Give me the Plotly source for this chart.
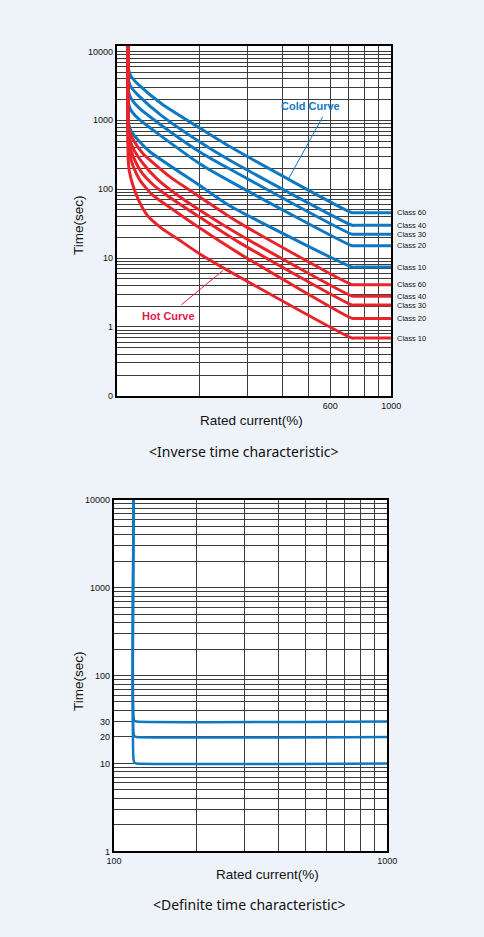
import math
import plotly.graph_objects as go

# ---------------- DATA: inverse time characteristic (top chart) ----------------
class_labels = ["Class 60", "Class 40", "Class 30", "Class 20", "Class 10"]

# cold curves (rated current %, trip time s)
cold60_x = [110, 110, 111, 113, 120, 146, 202, 257, 720, 740, 1000]
cold60_t = [12000, 6000, 5000, 4300, 3300, 1730, 760, 420, 45.5, 45.5, 45.5]
cold40_x = [110, 110, 111, 113, 120, 146, 202, 257, 720, 740, 1000]
cold40_t = [12000, 4200, 3500, 3000, 2290, 1160, 476, 265, 29.9, 29.9, 29.9]
cold30_x = [110, 110, 111, 113, 120, 146, 202, 257, 720, 740, 1000]
cold30_t = [12000, 2900, 2400, 2050, 1540, 836, 342, 198, 22.2, 22.2, 22.2]
cold20_x = [110, 110, 111, 113, 120, 146, 202, 257, 720, 740, 1000]
cold20_t = [12000, 1950, 1600, 1370, 1050, 581, 230, 132, 15.1, 15.1, 15.1]
cold10_x = [110, 110, 111, 113, 120, 132, 202, 257, 720, 740, 1000]
cold10_t = [12000, 1000, 820, 686, 509, 350, 111, 58, 7.4, 7.4, 7.4]

# hot curves
hot60_x = [110, 110, 111.1, 114.7, 124.4, 140.4, 158.5, 186.3, 279, 720, 740, 1000]
hot60_t = [12000, 955, 709, 526, 331, 215, 145, 94.2, 32.7, 4.11, 4.11, 4.11]
hot40_x = [110, 110, 111.1, 114.7, 124.4, 140.4, 162.4, 202, 279, 720, 740, 1000]
hot40_t = [12000, 757, 562, 391, 238, 140, 88, 48.6, 22.0, 2.80, 2.80, 2.80]
hot30_x = [110, 110, 111.1, 114.7, 122.4, 134.8, 149.8, 202, 279, 720, 740, 1000]
hot30_t = [12000, 601, 446, 300, 182, 119, 85.3, 38.5, 16.9, 2.08, 2.08, 2.08]
hot20_x = [110, 110, 111.1, 114.7, 121.4, 134.8, 158.5, 202, 279, 720, 740, 1000]
hot20_t = [12000, 461, 331, 215, 135.6, 82.6, 52, 26.8, 11.7, 1.33, 1.33, 1.33]
hot10_x = [110, 110, 111.1, 114.7, 120.4, 129.5, 146.2, 167.7, 202, 279, 720, 740, 1000]
hot10_t = [12000, 281, 182, 111, 67.6, 41.2, 26.8, 18.6, 11.3, 5.35, 0.69, 0.69, 0.69]

cold_plateaus = [45.5, 29.9, 22.2, 15.1, 7.4]
hot_plateaus = [4.11, 2.80, 2.08, 1.33, 0.69]

cold_leader_x = [563, 424]
cold_leader_t = [1127, 145]
hot_leader_x = [172, 244]
hot_leader_t = [2.10, 6.61]

top_x_tickvals = [600, 1000]
top_x_ticktext = ["600", "1000"]
top_y_tickvals = [0.1, 1, 10, 100, 1000, 10000]
top_y_ticktext = ["0", "1", "10", "100", "1000", "10000"]

# ---------------- DATA: definite time characteristic (bottom chart) ----------------
def30_x = [118, 118, 119, 121, 1000]
def30_t = [10000, 33, 30.5, 30, 30]
def20_x = [118, 118, 119, 121, 1000]
def20_t = [10000, 22, 20.3, 20, 20]
def10_x = [118, 118, 119, 121, 1000]
def10_t = [10000, 11, 10.15, 10, 10]

bot_x_tickvals = [100, 1000]
bot_x_ticktext = ["100", "1000"]
bot_y_tickvals = [1, 10, 20, 30, 100, 1000, 10000]
bot_y_ticktext = ["1", "10", "20", "30", "100", "1000", "10000"]

# ---------------- STYLE ----------------
BLUE = "#0f78c2"
RED = "#e8242b"
HOT_TXT = "#e3174a"
BG = "#eef3fa"
W, H = 484, 937
TICKFONT = dict(family="Liberation Sans, Arial, sans-serif", size=9, color="#111")


def grid_values(lo_exp, hi_exp):
    vals = []
    for e in range(lo_exp, hi_exp):
        for d in range(1, 10):
            vals.append(d * 10 ** e)
    vals.append(10 ** hi_exp)
    return vals


def merged_ticks(grid, tv, tt):
    lab = dict(zip(tv, tt))
    vals = sorted(set(grid) | set(tv))
    return vals, [lab.get(v, "") for v in vals]


fig = go.Figure()

cold_sets = [(cold60_x, cold60_t), (cold40_x, cold40_t), (cold30_x, cold30_t),
             (cold20_x, cold20_t), (cold10_x, cold10_t)]
hot_sets = [(hot60_x, hot60_t), (hot40_x, hot40_t), (hot30_x, hot30_t),
            (hot20_x, hot20_t), (hot10_x, hot10_t)]

for (xs, ts), name in zip(cold_sets, class_labels):
    fig.add_trace(go.Scatter(x=xs, y=ts, mode="lines", name="Cold " + name,
                             line=dict(color=BLUE, width=3, shape="spline", smoothing=0.6),
                             xaxis="x", yaxis="y", showlegend=False))
for (xs, ts), name in zip(hot_sets, class_labels):
    fig.add_trace(go.Scatter(x=xs, y=ts, mode="lines", name="Hot " + name,
                             line=dict(color=RED, width=3, shape="spline", smoothing=0.6),
                             xaxis="x", yaxis="y", showlegend=False))

fig.add_trace(go.Scatter(x=cold_leader_x, y=cold_leader_t, mode="lines",
                         line=dict(color=BLUE, width=1), xaxis="x", yaxis="y", showlegend=False))
fig.add_trace(go.Scatter(x=hot_leader_x, y=hot_leader_t, mode="lines",
                         line=dict(color=HOT_TXT, width=1), xaxis="x", yaxis="y", showlegend=False))

for xs, ts in [(def30_x, def30_t), (def20_x, def20_t), (def10_x, def10_t)]:
    fig.add_trace(go.Scatter(x=xs, y=ts, mode="lines",
                             line=dict(color=BLUE, width=2.5, shape="spline", smoothing=0.6),
                             xaxis="x2", yaxis="y2", showlegend=False))

# axes
tx_v, tx_t = merged_ticks(grid_values(2, 3), top_x_tickvals, top_x_ticktext)
ty_v, ty_t = merged_ticks(grid_values(-1, 4), top_y_tickvals, top_y_ticktext)
bx_v, bx_t = merged_ticks(grid_values(2, 3), bot_x_tickvals, bot_x_ticktext)
by_v, by_t = merged_ticks(grid_values(0, 4), bot_y_tickvals, bot_y_ticktext)

axis_common = dict(type="log", showline=True, mirror=True, linecolor="#000", linewidth=2,
                   showgrid=True, gridcolor="#3c3c3c", gridwidth=1, ticks="",
                   tickmode="array", tickfont=TICKFONT, zeroline=False, fixedrange=True)

fig.update_layout(
    width=W, height=H,
    margin=dict(l=0, r=0, t=0, b=0),
    paper_bgcolor=BG, plot_bgcolor="white",
    xaxis=dict(axis_common, domain=[113 / W, 398 / W], range=[2, 3],
               tickvals=tx_v, ticktext=tx_t, anchor="y"),
    yaxis=dict(axis_common, domain=[1 - 395 / H, 1 - 41 / H], range=[-1, 4.086],
               tickvals=ty_v, ticktext=ty_t, anchor="x"),
    xaxis2=dict(axis_common, domain=[110 / W, 394 / W], range=[2, 3],
                tickvals=bx_v, ticktext=bx_t, anchor="y2"),
    yaxis2=dict(axis_common, domain=[1 - 855.5 / H, 1 - 500 / H], range=[0, 4],
                tickvals=by_v, ticktext=by_t, anchor="x2"),
)

ann = []
for lab, v in zip(class_labels, cold_plateaus):
    ann.append(dict(x=402 / W, xref="paper", xanchor="left", y=math.log10(v), yref="y",
                    yanchor="middle", text=lab, showarrow=False,
                    font=dict(family="Liberation Sans, Arial", size=7.5, color="#111")))
for lab, v in zip(class_labels, hot_plateaus):
    ann.append(dict(x=402 / W, xref="paper", xanchor="left", y=math.log10(v), yref="y",
                    yanchor="middle", text=lab, showarrow=False,
                    font=dict(family="Liberation Sans, Arial", size=7.5, color="#111")))

ann.append(dict(x=math.log10(507), y=math.log10(1594), xref="x", yref="y", text="<b>Cold Curve</b>",
                xanchor="center", yanchor="middle",
                showarrow=False, font=dict(family="Liberation Sans, Arial", size=11, color=BLUE)))
ann.append(dict(x=math.log10(154), y=math.log10(1.46), xref="x", yref="y", text="<b>Hot Curve</b>",
                xanchor="center", yanchor="middle",
                showarrow=False, font=dict(family="Liberation Sans, Arial", size=11, color=HOT_TXT)))

TITLEFONT = dict(family="Liberation Sans, Arial, sans-serif", size=13.5, color="#111")
CAPFONT = dict(family="Noto Sans, sans-serif", size=14, color="#111")


def label(px, py, text, font, angle=0):
    return dict(x=px / W, y=1 - py / H, xref="paper", yref="paper", text=text, textangle=angle,
                xanchor="center", yanchor="middle", showarrow=False, font=font)


ann += [
    label(73, 222, "Time(sec)", TITLEFONT, -90),
    label(253, 420, "Rated current(%)", TITLEFONT),
    label(245, 451, "&lt;Inverse time characteristic&gt;", CAPFONT),
    label(73, 683, "Time(sec)", TITLEFONT, -90),
    label(270, 879, "Rated current(%)", TITLEFONT),
    label(250, 909, "&lt;Definite time characteristic&gt;", CAPFONT),
]
fig.update_layout(annotations=ann)

fig.write_html(
    "out.html",
    config={"displayModeBar": False},
    post_script="document.body.style.margin='0px';document.body.style.overflow='hidden';"
                "document.body.style.background='#eef3fa';",
)
